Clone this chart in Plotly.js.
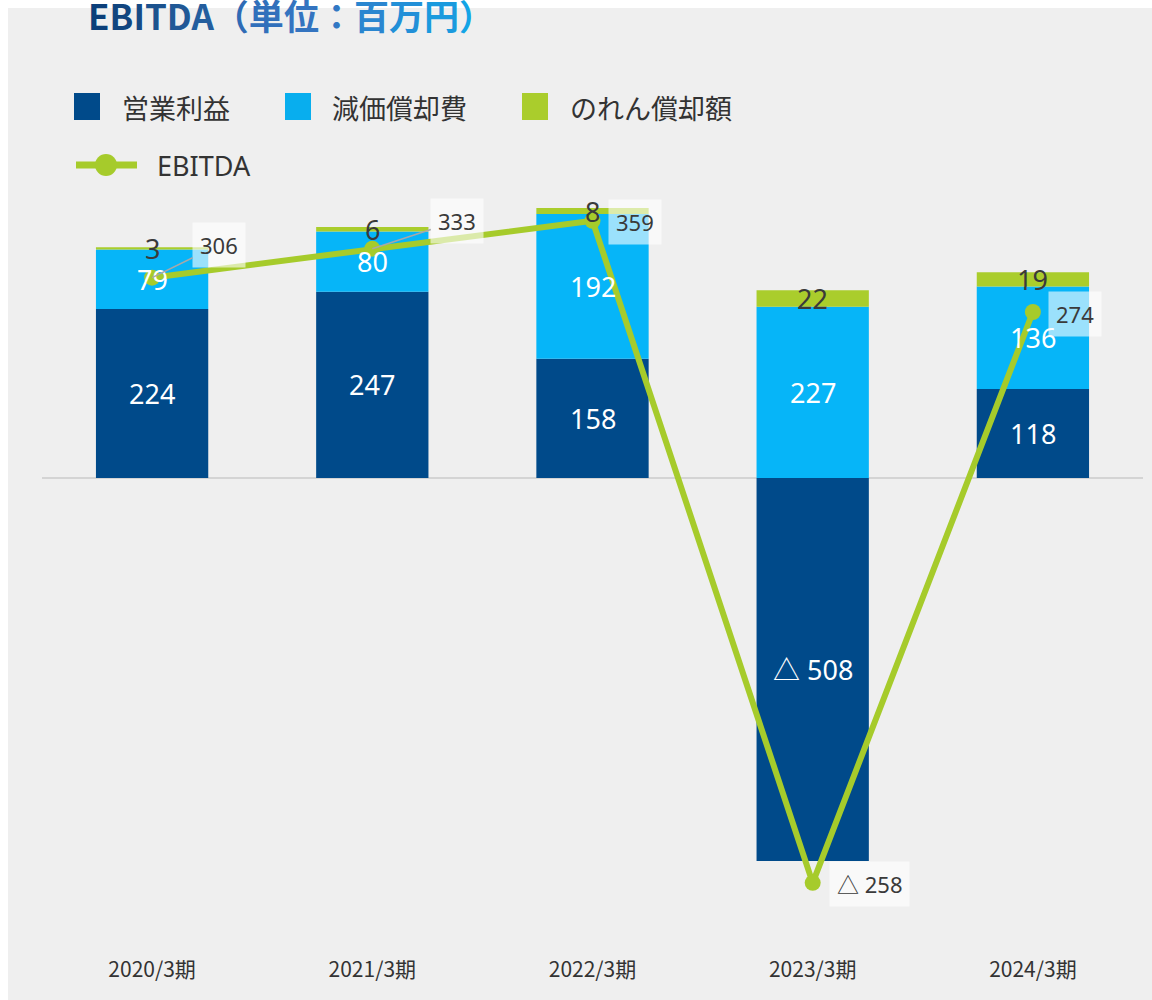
<!DOCTYPE html>
<html>
<head>
<meta charset="utf-8">
<script src="https://cdn.plot.ly/plotly-3.0.1.min.js"></script>
<style>
html,body{margin:0;padding:0;background:#ffffff;}
#chart{width:1152px;height:1000px;}
</style>
</head>
<body>
<div id="chart"></div>
<script>
// ---- data ----
const categories = ['2020/3期','2021/3期','2022/3期','2023/3期','2024/3期'];
const opProfit = [224, 247, 158, -508, 118];
const depreciation = [79, 80, 192, 227, 136];
const goodwill = [3, 6, 8, 22, 19];
const ebitda = [306, 333, 359, -258, 274];
const opLabels = ['224', '247', '158', '△ 508', '118'];
const ebitdaLabels = ['306', '333', '359', '△ 258', '274'];
const seriesNames = ['営業利益', '減価償却費', 'のれん償却額', 'EBITDA'];
const titleText = 'EBITDA（単位：百万円）';

// ---- layout geometry (pixels) ----
const W = 1152, H = 1000;
const M = {l: 42, r: 9, t: 190, b: 80};
const PW = W - M.l - M.r, PH = H - M.t - M.b;
const px = x => (x - M.l) / PW;
const py = y => (H - M.b - y) / PH;

const FONT = '"Noto Sans", "Noto Sans CJK JP", sans-serif';
const JFONT = '"Noto Sans CJK JP", "Noto Sans", sans-serif';
const C_OP = '#004a8a', C_DEP = '#06b5f8', C_GW = '#aacd2c', C_LINE = '#a6cb2b';

const traces = [
  {type: 'bar', name: seriesNames[0], x: categories, y: opProfit, marker: {color: C_OP}, hoverinfo: 'skip'},
  {type: 'bar', name: seriesNames[1], x: categories, y: depreciation, marker: {color: C_DEP}, hoverinfo: 'skip'},
  {type: 'bar', name: seriesNames[2], x: categories, y: goodwill, marker: {color: C_GW}, hoverinfo: 'skip'},
  {type: 'scatter', mode: 'lines+markers', name: seriesNames[3], x: categories, y: ebitda, yaxis: 'y2',
   line: {color: C_LINE, width: 6}, marker: {color: C_LINE, size: 16}, hoverinfo: 'skip'}
];

const annotations = [];
categories.forEach((c, i) => {
  const posBase = Math.max(opProfit[i], 0);
  annotations.push({x: c, y: opProfit[i] / 2, xref: 'x', yref: 'y', text: opLabels[i], showarrow: false,
    font: {family: FONT, size: 27, color: '#ffffff'}});
  annotations.push({x: c, y: posBase + depreciation[i] / 2, xref: 'x', yref: 'y', text: String(depreciation[i]), showarrow: false,
    font: {family: FONT, size: 27, color: '#ffffff'}});
  annotations.push({x: c, y: posBase + depreciation[i] + goodwill[i] / 2, xref: 'x', yref: 'y', text: String(goodwill[i]), showarrow: false,
    font: {family: FONT, size: 27, color: '#3a3a3a'}});
});
// EBITDA value boxes
const boxOffsets = [
  {arrow: true, ax: 67, ay: -33},
  {arrow: true, ax: 85, ay: -28},
  {arrow: false, xs: 42, ys: -1},
  {arrow: false, xs: 57, ys: -1},
  {arrow: false, xs: 42, ys: -2}
];
categories.forEach((c, i) => {
  const o = boxOffsets[i];
  const a = {x: c, y: ebitda[i], xref: 'x', yref: 'y2', text: ebitdaLabels[i],
    font: {family: FONT, size: 22, color: '#3a3a3a'}, bgcolor: 'rgba(255,255,255,0.6)', borderpad: 7};
  if (o.arrow) {
    Object.assign(a, {showarrow: true, arrowhead: 0, arrowwidth: 1.5, arrowcolor: '#a8a8a8', ax: o.ax, ay: o.ay, standoff: 0});
  } else {
    Object.assign(a, {showarrow: false, xshift: o.xs, yshift: o.ys});
  }
  annotations.push(a);
});

// custom legend
const legendItems = [
  {x: 74, color: C_OP, textX: 120},
  {x: 285, color: '#08aeee', textX: 330},
  {x: 522, color: C_GW, textX: 568}
];
const shapes = [
  {type: 'rect', xref: 'paper', yref: 'paper', x0: px(8), x1: px(1152), y0: py(1000), y1: py(8),
   fillcolor: '#efefef', line: {width: 0}, layer: 'below'}
];
legendItems.forEach((it, i) => {
  shapes.push({type: 'rect', xref: 'paper', yref: 'paper', x0: px(it.x), x1: px(it.x + 26), y0: py(120), y1: py(93),
    fillcolor: it.color, line: {width: 0}});
  annotations.push({xref: 'paper', yref: 'paper', x: px(it.textX), y: py(107), xanchor: 'left', yanchor: 'middle',
    text: seriesNames[i], showarrow: false, font: {family: JFONT, size: 27, color: '#333333'}});
});
shapes.push({type: 'line', xref: 'paper', yref: 'paper', x0: px(76), x1: px(137), y0: py(165), y1: py(165),
  line: {color: C_LINE, width: 7}});
shapes.push({type: 'circle', xref: 'paper', yref: 'paper', x0: px(95), x1: px(117), y0: py(176), y1: py(154),
  fillcolor: C_LINE, line: {width: 0}});
annotations.push({xref: 'paper', yref: 'paper', x: px(155), y: py(165), xanchor: 'left', yanchor: 'middle',
  text: seriesNames[3], showarrow: false, font: {family: FONT, size: 27, color: '#333333'}});

// title with gradient-like colouring
const titleColors = ['#0b3f7a','#11457f','#164b86','#1b528e','#205896','#245e9e',
  '#2f6bb5','#3170bb','#3474c0','#3278c4','#2a86d0','#2290d8','#1a9ade','#12a4e6'];
const titleHtml = Array.from(titleText).map((ch, i) =>
  '<span style="color:' + titleColors[Math.min(i, titleColors.length - 1)] + '">' + ch + '</span>').join('');

const kY = 0.754, zeroY = 478;
const kY2 = 1.073, zeroY2 = 606;
const layout = {
  width: W, height: H,
  margin: M,
  paper_bgcolor: '#ffffff',
  plot_bgcolor: 'rgba(0,0,0,0)',
  barmode: 'relative',
  bargap: 0.49,
  showlegend: false,
  title: {text: '<b>' + titleHtml + '</b>', xref: 'container', yref: 'container',
    x: 88 / W, xanchor: 'left', y: 1 - 18 / H, yanchor: 'middle',
    font: {family: JFONT, size: 35, color: '#1b528e'}},
  xaxis: {range: [-0.5, 4.5], showgrid: false, zeroline: false, showline: false, ticks: '',
    tickfont: {family: JFONT, size: 21, color: '#333333'}, ticklabelstandoff: 35, fixedrange: true},
  yaxis: {range: [-(H - M.b - zeroY) / kY, (zeroY - M.t) / kY], showgrid: false, showticklabels: false,
    zeroline: true, zerolinecolor: '#d4d4d4', zerolinewidth: 2, ticks: '', fixedrange: true},
  yaxis2: {range: [-(H - M.b - zeroY2) / kY2, (zeroY2 - M.t) / kY2], overlaying: 'y', side: 'right',
    showgrid: false, showticklabels: false, zeroline: false, ticks: '', fixedrange: true},
  shapes: shapes,
  annotations: annotations
};

Plotly.newPlot('chart', traces, layout, {staticPlot: true, displayModeBar: false});
</script>
</body>
</html>
